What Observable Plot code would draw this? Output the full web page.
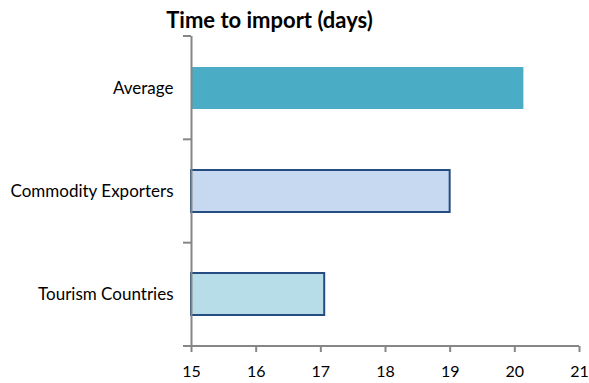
<!DOCTYPE html>
<html>
<head>
<meta charset="utf-8">
<script src="https://cdn.jsdelivr.net/npm/d3@7"></script>
<script src="https://cdn.jsdelivr.net/npm/@observablehq/plot@0.6"></script>
<style>
  body { margin: 0; background: #fff; }
  #wrap { position: relative; width: 589px; height: 383px; font-family: Lato, "Open Sans", sans-serif; }
  #title { position: absolute; left: 0; top: 6px; width: 539px; text-align: center; font-weight: bold; font-size: 22px; line-height: 28px; color: #000; z-index: 2; }
</style>
</head>
<body>
<div id="wrap"><div id="title">Time to import (days)</div></div>
<script>
const categories = ["Average", "Commodity Exporters", "Tourism Countries"];
const values = [20.14, 19.0, 17.06];
const fills = ["#4BACC6", "#C6D9F1", "#B7DEE8"];
const strokes = ["none", "#264D82", "#264D82"];
const xTicks = [15, 16, 17, 18, 19, 20, 21];
const xMin = 15, xMax = 21;

const data = categories.map((c, i) => ({cat: c, value: values[i], fill: fills[i], stroke: strokes[i]}));
const axisColor = "#868686";

const plot = Plot.plot({
  width: 589,
  height: 383,
  marginLeft: 191,
  marginRight: 10,
  marginTop: 36,
  marginBottom: 37,
  style: {fontFamily: "Lato, 'Open Sans', sans-serif", fontSize: "16px", color: "#000", background: "#fff", overflow: "visible"},
  x: {domain: [xMin, xMax], ticks: xTicks},
  y: {domain: categories, paddingInner: 0.574, paddingOuter: 0.287},
  marks: [
    Plot.barX(data, {y: "cat", x1: () => xMin, x2: "value", fill: "fill", stroke: "stroke", strokeWidth: 2, insetTop: 1, insetBottom: 1}),
    Plot.axisX({ticks: xTicks, tickFormat: d3.format("d"), tickSize: 6, stroke: axisColor, strokeWidth: 2, tickPadding: 13, fontSize: 16, fill: "#000", label: null}),
    Plot.axisY({tickSize: 0, tickPadding: 18, fontSize: 17, fill: "#000", label: null}),
    Plot.ruleX([xMin], {stroke: axisColor, strokeWidth: 2})
  ]
});

// x axis baseline and y boundary ticks drawn from the plot's own scales
const sx = plot.scale("x"), sy = plot.scale("y");
const svg = d3.select(plot);
const [y0, y1] = sy.range;
svg.append("line")
  .attr("x1", sx.apply(xMin)).attr("x2", sx.apply(xMax))
  .attr("y1", y1).attr("y2", y1)
  .attr("stroke", axisColor).attr("stroke-width", 2);
const n = categories.length;
for (let i = 0; i <= n; i++) {
  const yy = y0 + (y1 - y0) * i / n;
  svg.append("line")
    .attr("x1", sx.apply(xMin) - 8).attr("x2", sx.apply(xMin))
    .attr("y1", yy).attr("y2", yy)
    .attr("stroke", axisColor).attr("stroke-width", 2);
}
document.getElementById("wrap").prepend(plot);
plot.style.position = "absolute";
plot.style.left = "0";
plot.style.top = "0";
</script>
</body>
</html>
